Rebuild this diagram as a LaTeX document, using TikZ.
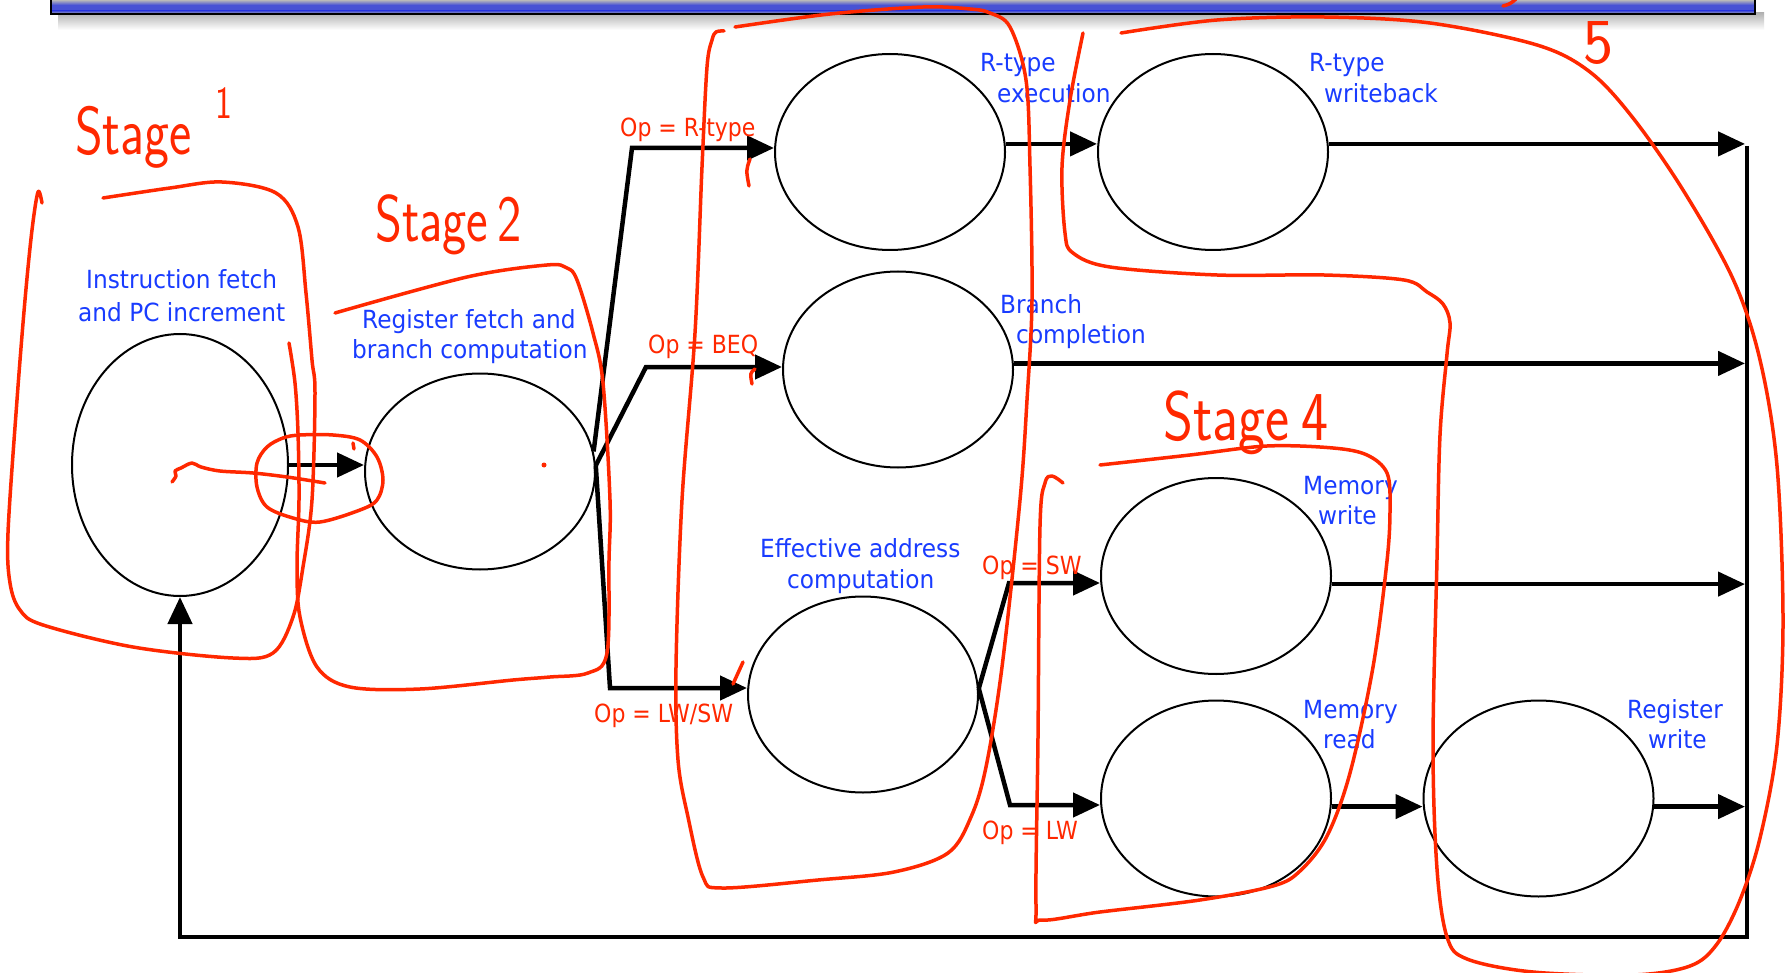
\documentclass[tikz,border=0pt]{standalone}
\usepackage{fontspec}
\usepackage{graphicx}
\usetikzlibrary{arrows.meta,shapes.geometric}

\newfontfamily\lblfont{DejaVu Sans}[FakeStretch=0.93]
\newfontfamily\opfont{DejaVu Sans}[FakeStretch=0.88]

\definecolor{lblblue}{RGB}{25,60,255}
\definecolor{pen}{RGB}{255,40,0}
\definecolor{barblue}{RGB}{72,82,212}

\tikzset{
  state/.style={ellipse, draw=black, line width=2pt, inner sep=0pt,
                minimum width=230pt, minimum height=196pt},
  blbl/.style={font=\lblfont\fontsize{25}{30}\selectfont, text=lblblue,
               inner sep=0pt, anchor=base west},
  oplbl/.style={font=\opfont\fontsize{25}{30}\selectfont, text=pen,
                inner sep=0pt, anchor=base west},
  flow/.style={line width=4.5pt, line join=miter,
               -{Triangle[length=27pt,width=24pt]}},
  ink/.style={draw=pen, line width=3.5pt, line cap=round, line join=round},
  hand/.style={text=pen, inner sep=0pt, anchor=base west, font=\sffamily},
}

\begin{document}
\begin{tikzpicture}[x=1pt, y=-1pt]
\useasboundingbox (0,0) rectangle (1787,973);
\fill[white] (0,0) rectangle (1787,973);

% title bar with its drop shadow
\shade[top color=black!30, bottom color=white] (58,13) rectangle (1764,30);
\fill[barblue] (51,0) rectangle (1755,14);
\shade[top color=gray!55, bottom color=barblue] (51,0) rectangle (1755,5);
\shade[top color=barblue, bottom color=gray!60] (51,11) rectangle (1755,14);
\draw[line width=2pt] (51,-3) rectangle (1755,14);

% states
\node[state, minimum width=216pt, minimum height=262pt] (IF) at (180,465) {};
\node[state] (RF) at (480,471.5) {};
\node[state] (EX) at (890,152) {};
\node[state] (WB) at (1213,152) {};
\node[state] (BR) at (898,369.5) {};
\node[state] (EA) at (863,694.5) {};
\node[state] (MW) at (1216,576) {};
\node[state] (MR) at (1216,798.5) {};
\node[state] (RW) at (1538.5,798.5) {};

% branch points and the return rail
\coordinate (brR) at (632,148);
\coordinate (brB) at (646,367);
\coordinate (brL) at (610,688);
\coordinate (brS) at (1009,583);
\coordinate (brW) at (1010,805);
\coordinate (railtop) at (1745,146);
\coordinate (railbot) at (1747,937);
\coordinate (railx) at (1747,146);

% connectors
\draw[flow] (IF.east) -- (IF.east -| RF.west);
\draw[flow] (RF.10) -- (brR) -- (brR -| EX.west);
\draw[flow] (RF.3) -- (brB) -- (brB -| BR.west);
\draw[flow] (RF.3) -- (brL) -- (brL -| EA.west);
\draw[flow] (EA.3) -- (brS) -- (brS -| MW.west);
\draw[flow] (EA.3) -- (brW) -- (brW -| MR.west);
\draw[flow] (EX.4) -- (EX.4 -| WB.west);
\draw[flow] (WB.4) -- (WB.4 -| railtop);
\draw[flow] (BR.3) -- (BR.3 -| railtop);
\draw[flow] (MW.-4) -- (MW.-4 -| railtop);
\draw[flow] (MR.-4) -- (MR.-4 -| RW.west);
\draw[flow] (RW.-4) -- (RW.-4 -| railtop);
\draw[flow] (railx) -- (railbot) -- (IF.south |- railbot) -- (IF.south);

% state captions
\node[blbl] (t1a) at (86,289) {Instruction fetch};
\node[blbl] (t1b) at (78,322) {and PC increment};
\node[blbl] (t2a) at (362,328) {Register fetch and};
\node[blbl] (t2b) at (352,359) {branch computation};
\node[blbl] (t3a) at (980,72) {R-type};
\node[blbl] (t3b) at (997,103) {execution};
\node[blbl] (t4a) at (1309,72) {R-type};
\node[blbl] (t4b) at (1324,103) {writeback};
\node[blbl] (t5a) at (1000,313) {Branch};
\node[blbl] (t5b) at (1016,344) {completion};
\node[blbl] (t6a) at (1303,494) {Memory};
\node[blbl] (t6b) at (1318,524) {write};
\node[blbl] (t7a) at (1303,718) {Memory};
\node[blbl] (t7b) at (1323,748) {read};
\node[blbl] (t8a) at (1627,718) {Register};
\node[blbl] (t8b) at (1648,748) {write};
\node[blbl] (t9a) at (760,557) {Effective address};
\node[blbl] (t9b) at (787,588) {computation};

% opcode conditions
\node[oplbl] (o1) at (620,137) {Op = R-type};
\node[oplbl] (o2) at (648,353) {Op = BEQ};
\node[oplbl] (o3) at (594,722) {Op = LW/SW};
\node[oplbl] (o4) at (982,574) {Op = SW};
\node[oplbl] (o5) at (982,839) {Op = LW};

% pen annotations: stage names
\node[hand] (s1) at (75,155) {\scalebox{0.78}[1]{\fontsize{68}{68}\selectfont Stage\hspace{30pt}\raisebox{36pt}{\fontsize{46}{46}\selectfont 1}}};
\node[hand] (s2) at (375,242) {\scalebox{0.78}[1]{\fontsize{66}{66}\selectfont Stage\hspace{12pt}2}};
\node[hand] (s4) at (1163,440) {\scalebox{0.82}[1]{\fontsize{70}{70}\selectfont Stage\hspace{14pt}4}};
\node[hand] (s5) at (1583,64) {\fontsize{64}{64}\selectfont 5};
\draw[ink] (1503,6) .. controls (1510,4) .. (1516,-1);

% pen annotations: stage outlines
\draw[ink] plot[smooth, tension=0.55] coordinates {
  (103,198) (170,188) (222,182) (276,193) (298,227) (306,293) (312,360)
  (315,393) (312,500) (303,567) (293,617) (273,653) (233,658) (133,647)
  (43,625) (20,610) (10,583) (8,533) (17,400) (25,300) (32,230) (38,192) (42,203)};
\draw[ink] plot[smooth, tension=0.55] coordinates {
  (289,343) (295,383) (298,433) (299,500) (297,567) (300,617) (317,667)
  (350,687) (420,689) (513,680) (550,677) (588,673) (607,653) (609,560)
  (610,500) (603,383) (593,333) (577,280) (567,268) (547,265) (467,277) (335,313)};
\draw[ink] plot[smooth, tension=0.55] coordinates {
  (735,27) (830,14) (923,7) (970,9) (990,13) (1010,27) (1026,80) (1030,167)
  (1032,300) (1027,400) (1020,500) (1002,667) (986,767) (971,817) (948,853)
  (894,872) (818,880) (722,888) (703,877) (688,817) (678,760) (676,667)
  (682,500) (695,333) (702,167) (707,67) (712,40) (716,32) (724,31)};
\draw[ink] plot[smooth, tension=0.55] coordinates {
  (1100,465) (1190,455) (1267,446) (1333,448) (1367,455) (1387,473) (1390,508)
  (1387,561) (1373,667) (1350,773) (1327,836) (1300,871) (1273,886) (1200,900)
  (1100,912) (1042,920) (1036,905) (1038,737) (1040,526) (1045,483) (1052,476) (1063,483)};
\draw[ink] plot[smooth, tension=0.55] coordinates {
  (1121,33) (1217,20) (1324,17) (1430,23) (1537,45) (1590,72) (1633,118)
  (1683,190) (1733,279) (1760,360) (1777,466) (1783,621) (1777,745) (1760,838)
  (1740,900) (1717,944) (1690,966) (1633,975) (1533,972) (1467,959) (1447,937)
  (1437,869) (1433,745) (1437,559) (1440,435) (1447,354) (1450,323) (1443,304)
  (1427,292) (1404,280) (1324,275) (1217,275) (1110,267) (1073,253) (1065,233)
  (1062,167) (1070,100) (1083,33)};

% pen annotations: marks around the first transition
\draw[ink] plot[smooth cycle, tension=0.55] coordinates {
  (300,435) (333,435) (360,440) (377,457) (383,480) (377,500) (360,510)
  (320,522) (293,518) (267,507) (257,487) (257,463) (267,447) (283,438)};
\draw[ink] (353,443) -- (354,449);
\draw[ink] plot[smooth, tension=0.55] coordinates {
  (172,482) (176,476) (175,471) (181,468) (192,463) (201,467) (220,471)
  (253,473) (287,477) (325,483)};
\fill[pen] (544,465) circle (2.5);

% pen ticks at the branch arrows
\draw[ink] (750,159) .. controls (746,170) .. (749,186);
\draw[ink] (755,369) .. controls (750,373) .. (752,384);
\draw[ink] (743,662) -- (733,684);
\end{tikzpicture}
\end{document}
